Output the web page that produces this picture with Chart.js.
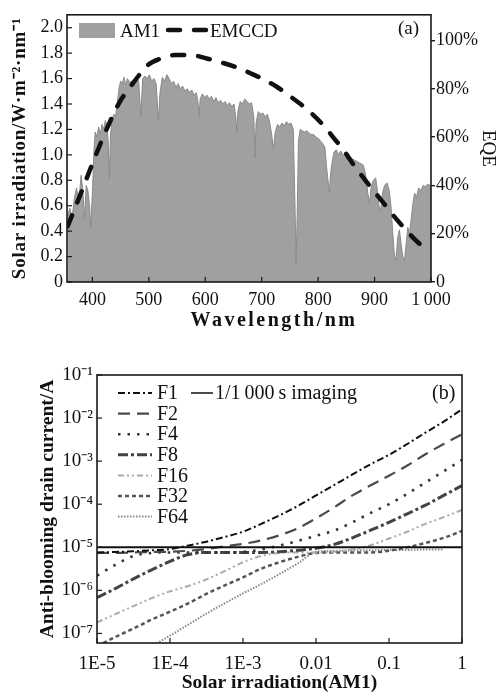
<!DOCTYPE html>
<html>
<head>
<meta charset="utf-8">
<script src="https://cdn.jsdelivr.net/npm/chart.js@4.4.1/dist/chart.umd.min.js"></script>
<style>
  html, body { margin: 0; padding: 0; background: #fff; }
  #wrap { position: relative; width: 500px; height: 693px; }
  canvas { position: absolute; left: 0; }
  #chartA { top: 0; }
  #chartB { top: 340px; }
</style>
</head>
<body>
<div id="wrap">
  <canvas id="chartA" width="500" height="340"></canvas>
  <canvas id="chartB" width="500" height="353"></canvas>
</div>
<script>
const $ = id => document.getElementById(id);
const SERIF = "'Liberation Serif', 'Times New Roman', serif";
Chart.defaults.font.family = SERIF;
Chart.defaults.color = '#111';

// ---- (a) AM1 spectrum + EMCCD EQE ----
const am1Wl = [356, 360, 364, 368, 372, 376, 380, 383, 386, 389, 392, 395, 397, 400, 403, 405, 408, 411, 414, 417,
  420, 423, 426, 428, 430, 432, 435, 438, 441, 444, 447, 450, 453, 456, 459, 462, 466, 470, 474, 478,
  482, 486, 489, 493, 497, 501, 505, 509, 513, 517, 520, 524, 528, 532, 536, 540, 544, 548, 552, 556,
  560, 564, 568, 572, 576, 580, 584, 587, 589, 591, 595, 599, 603, 607, 611, 615, 619, 623, 627, 631,
  635, 639, 643, 647, 651, 654, 656, 658, 662, 666, 670, 674, 678, 682, 686, 688, 690, 694, 698, 702,
  706, 710, 714, 718, 721, 724, 728, 732, 736, 740, 744, 748, 752, 756, 759, 761, 763, 765, 768, 772,
  776, 780, 784, 788, 792, 796, 800, 804, 808, 812, 815, 818, 820, 822, 825, 828, 832, 836, 840, 844,
  848, 852, 856, 860, 864, 868, 872, 876, 880, 884, 888, 891, 894, 898, 902, 905, 908, 911, 914, 918,
  922, 926, 929, 932, 935, 938, 941, 944, 947, 950, 953, 956, 959, 962, 965, 968, 971, 974, 978, 982,
  986, 990, 994, 998, 1000];
const am1Irr = [0.52, 0.58, 0.50, 0.66, 0.74, 0.62, 0.84, 0.72, 0.50, 0.76, 0.72, 0.60, 0.43, 0.70, 1.05, 1.18, 1.14, 1.22, 1.16, 1.24,
  1.20, 1.27, 1.22, 1.10, 0.82, 1.15, 1.28, 1.32, 1.30, 1.40, 1.52, 1.58, 1.56, 1.61, 1.55, 1.60, 1.57, 1.58, 1.54, 1.60,
  1.58, 1.30, 1.60, 1.62, 1.60, 1.63, 1.58, 1.60, 1.56, 1.27, 1.50, 1.61, 1.58, 1.63, 1.60, 1.56, 1.58, 1.53, 1.56, 1.52,
  1.54, 1.50, 1.52, 1.49, 1.51, 1.47, 1.49, 1.42, 1.30, 1.44, 1.48, 1.45, 1.47, 1.44, 1.46, 1.42, 1.45, 1.41, 1.43, 1.40,
  1.42, 1.39, 1.41, 1.38, 1.40, 1.30, 1.18, 1.35, 1.42, 1.40, 1.44, 1.42, 1.40, 1.41, 1.30, 0.98, 1.25, 1.34, 1.32, 1.33,
  1.30, 1.32, 1.26, 1.15, 1.05, 1.18, 1.24, 1.22, 1.25, 1.23, 1.26, 1.24, 1.25, 1.20, 0.60, 0.15, 0.55, 1.10, 1.20, 1.19,
  1.18, 1.19, 1.17, 1.16, 1.16, 1.14, 1.13, 1.11, 1.09, 1.06, 0.90, 0.78, 0.70, 0.85, 0.95, 1.02, 1.04, 1.00, 1.03, 1.00,
  0.99, 0.96, 0.99, 0.97, 0.96, 0.95, 0.94, 0.93, 0.92, 0.85, 0.70, 0.62, 0.75, 0.80, 0.82, 0.72, 0.60, 0.56, 0.70, 0.76,
  0.78, 0.72, 0.60, 0.40, 0.22, 0.17, 0.35, 0.41, 0.30, 0.20, 0.17, 0.30, 0.43, 0.38, 0.50, 0.62, 0.70, 0.66, 0.74, 0.72,
  0.76, 0.75, 0.77, 0.76, 0.76];
const eqeWl = [356, 380, 400, 421, 447, 474, 499, 520, 546, 575, 604, 628, 655, 680, 703, 726, 747, 770, 790, 811,
  830, 844, 860, 876, 894, 915, 930, 952, 970, 988];
const eqePct = [23, 37, 49, 61, 74, 83, 90, 92.5, 94, 94, 92.5, 91, 89, 86.5, 84, 81, 77.5, 73.5, 69.5, 64.5,
  59, 55, 49.5, 44.5, 39, 33, 28.5, 22.5, 18, 14];
const wlTicks = [400, 500, 600, 700, 800, 900, 1000];
const wlTickLabels = ['400', '500', '600', '700', '800', '900', '1\u2009000'];
const irrTicks = [0, 0.2, 0.4, 0.6, 0.8, 1.0, 1.2, 1.4, 1.6, 1.8, 2.0];
const irrTickLabels = ['0', '0.2', '0.4', '0.6', '0.8', '1.0', '1.2', '1.4', '1.6', '1.8', '2.0'];
const eqeTicks = [0, 20, 40, 60, 80, 100];
const eqeTickLabels = ['0', '20%', '40%', '60%', '80%', '100%'];

// ---- (b) anti-blooming drain current vs irradiation ----
const solar = [1e-5, 1.78e-5, 3.16e-5, 5.62e-5, 1e-4, 1.78e-4, 3.16e-4, 5.62e-4, 1e-3, 1.78e-3, 3.16e-3,
  5.62e-3, 0.01, 0.0178, 0.0316, 0.0562, 0.1, 0.178, 0.316, 0.562, 1];
const f1 = [7.6e-6, 7.8e-6, 8.1e-6, 8.5e-6, 9.1e-6, 1.1e-5, 1.35e-5, 1.74e-5, 2.3e-5, 3.5e-5, 5.5e-5,
  9.1e-5, 1.6e-4, 2.8e-4, 4.9e-4, 8.5e-4, 1.4e-3, 2.5e-3, 4.6e-3, 8.3e-3, 1.6e-2];
const f2 = [7.4e-6, 7.4e-6, 7.6e-6, 7.8e-6, 7.9e-6, 8.3e-6, 9.1e-6, 1.05e-5, 1.2e-5, 1.45e-5, 1.9e-5,
  2.75e-5, 4.7e-5, 8.5e-5, 1.6e-4, 2.75e-4, 4.6e-4, 7.9e-4, 1.45e-3, 2.5e-3, 4.2e-3];
const f4 = [2.2e-6, 3.9e-6, 6.3e-6, 7.4e-6, 7.6e-6, 7.6e-6, 7.6e-6, 7.6e-6, 7.8e-6, 8.9e-6, 1.1e-5,
  1.4e-5, 1.85e-5, 2.45e-5, 3.8e-5, 6.3e-5, 1.0e-4, 1.75e-4, 3.2e-4, 5.8e-4, 1.07e-3];
const f8 = [6.8e-7, 1.1e-6, 1.85e-6, 3.0e-6, 4.7e-6, 6.8e-6, 7.6e-6, 7.6e-6, 7.6e-6, 7.6e-6, 7.9e-6,
  8.5e-6, 9.5e-6, 1.17e-5, 1.66e-5, 2.5e-5, 3.8e-5, 6.0e-5, 9.5e-5, 1.6e-4, 2.7e-4];
const f16 = [1.8e-7, 2.8e-7, 4.3e-7, 6.6e-7, 9.5e-7, 1.26e-6, 1.8e-6, 2.8e-6, 4.5e-6, 6.3e-6, 7.4e-6,
  7.6e-6, 7.6e-6, 7.9e-6, 8.9e-6, 1.12e-5, 1.6e-5, 2.3e-5, 3.5e-5, 5.0e-5, 7.4e-5];
const f32 = [5.0e-8, 8.3e-8, 1.3e-7, 2.1e-7, 3.2e-7, 5.0e-7, 8.3e-7, 1.3e-6, 2.0e-6, 3.2e-6, 4.5e-6,
  6.0e-6, 7.4e-6, 7.6e-6, 7.6e-6, 7.6e-6, 8.3e-6, 1.0e-5, 1.26e-5, 1.66e-5, 2.4e-5];
const f64 = [null, null, 2.8e-8, 5.0e-8, 8.9e-8, 1.6e-7, 2.9e-7, 5.0e-7, 8.5e-7, 1.4e-6, 2.4e-6,
  4.2e-6, 7.9e-6, 8.3e-6, 8.5e-6, 8.5e-6, 8.7e-6, 8.7e-6, 8.9e-6, 8.9e-6, null];
const imagingX = [1e-5, 1];
const imagingY = [1e-5, 1e-5];
const solarTicks = [1e-5, 1e-4, 1e-3, 0.01, 0.1, 1];
const solarTickLabels = ['1E-5', '1E-4', '1E-3', '0.01', '0.1', '1'];
const currentTicks = [1e-7, 1e-6, 1e-5, 1e-4, 1e-3, 1e-2, 1e-1];
const currentTickLabels = ['10\u207B\u2077', '10\u207B\u2076', '10\u207B\u2075', '10\u207B\u2074', '10\u207B\u00B3', '10\u207B\u00B2', '10\u207B\u00B9'];

const pts = (xs, ys) => xs.map((x, i) => ({ x, y: ys[i] }));
const font = (size, weight) => ({ family: SERIF, size, weight: weight || 'normal' });

// frame around the plot + short ticks pointing inwards
const frameTicks = {
  id: 'frameTicks',
  afterDatasetsDraw(chart, args, opts) {
    const { ctx, chartArea: a } = chart;
    ctx.save();
    ctx.strokeStyle = '#1a1a1a';
    ctx.lineWidth = 1.6;
    ctx.strokeRect(a.left, a.top, a.right - a.left, a.bottom - a.top);
    ctx.lineWidth = 1.2;
    (opts.axes || []).forEach(id => {
      const s = chart.scales[id];
      s.ticks.forEach(t => {
        const p = s.getPixelForValue(t.value);
        ctx.beginPath();
        if (s.isHorizontal()) { ctx.moveTo(p, a.bottom); ctx.lineTo(p, a.bottom - 5); }
        else { ctx.moveTo(a.left, p); ctx.lineTo(a.left + 5, p); }
        ctx.stroke();
      });
    });
    ctx.restore();
  }
};

// the wavelength title of the original is letter-spaced and sits right of centre
const spacedTitles = {
  id: 'spacedTitles',
  beforeDraw(chart, args, opts) {
    Object.entries(opts.axes || {}).forEach(([id, o]) => {
      const s = chart.scales[id];
      if (!s || s._spaced) return;
      const orig = s.drawTitle.bind(s);
      s.drawTitle = function () {
        const ctx = chart.ctx;
        ctx.save();
        ctx.letterSpacing = o.spacing || '0px';
        ctx.translate(o.dx || 0, 0);
        orig();
        ctx.restore();
        ctx.letterSpacing = '0px';
      };
      s._spaced = true;
    });
  }
};

const legendA = {
  id: 'legendA',
  afterDraw(chart) {
    const ctx = chart.ctx;
    ctx.save();
    ctx.fillStyle = '#a0a0a0';
    ctx.fillRect(79, 23, 36, 15);
    ctx.fillStyle = '#111';
    ctx.font = `19px ${SERIF}`;
    ctx.textBaseline = 'alphabetic';
    ctx.fillText('AM1', 120, 37);
    ctx.fillText('EMCCD', 210, 37);
    ctx.fillText('(a)', 398, 34);
    ctx.strokeStyle = '#111';
    ctx.lineWidth = 4.5;
    ctx.lineCap = 'round';
    ctx.setLineDash([12, 14]);
    ctx.beginPath();
    ctx.moveTo(168, 30);
    ctx.lineTo(206, 30);
    ctx.stroke();
    ctx.restore();
  }
};

new Chart($('chartA'), {
  type: 'line',
  data: {
    datasets: [
      {
        label: 'EMCCD', data: pts(eqeWl, eqePct), yAxisID: 'yR',
        borderColor: '#111', borderWidth: 4.5, borderDash: [12, 14], borderCapStyle: 'round',
        pointRadius: 0, fill: false, cubicInterpolationMode: 'monotone', order: 0
      },
      {
        label: 'AM1', data: pts(am1Wl, am1Irr), yAxisID: 'y',
        borderColor: '#8a8a8a', borderWidth: 1, backgroundColor: '#a0a0a0',
        fill: 'origin', pointRadius: 0, tension: 0, order: 1
      }
    ]
  },
  options: {
    responsive: false, animation: false, devicePixelRatio: 1,
    layout: { padding: { top: 13, right: 0, bottom: 0, left: 0 } },
    plugins: {
      legend: { display: false }, tooltip: { enabled: false },
      frameTicks: { axes: ['x', 'y'] },
      spacedTitles: { axes: { x: { spacing: '2.5px', dx: 25 }, y: { spacing: '0.8px' } } }
    },
    scales: {
      x: {
        type: 'linear', min: 355, max: 1000,
        afterBuildTicks: s => { s.ticks = wlTicks.map(value => ({ value })); },
        afterFit: s => { s.height = 58; },
        grid: { display: false, drawTicks: false }, border: { display: false },
        ticks: { font: font(18), padding: 7, maxRotation: 0, autoSkip: false, callback: (v, i) => wlTickLabels[i] },
        title: { display: true, text: 'Wavelength/nm', font: font(20, 'bold'), padding: { top: 0, bottom: 7 } }
      },
      y: {
        type: 'linear', position: 'left', min: 0, max: 2.1016,
        afterBuildTicks: s => { s.ticks = irrTicks.map(value => ({ value })); },
        afterFit: s => { s.width = 67; },
        grid: { display: false, drawTicks: false }, border: { display: false },
        ticks: { font: font(18), padding: 4, autoSkip: false, callback: (v, i) => irrTickLabels[i] },
        title: { display: true, text: 'Solar irradiation/W\u00B7m\u207B\u00B2\u00B7nm\u207B\u00B9', font: font(19, 'bold'), padding: { top: 9, bottom: 0 } }
      },
      yR: {
        type: 'linear', position: 'right', min: 0, max: 110.7,
        afterBuildTicks: s => { s.ticks = eqeTicks.map(value => ({ value })); },
        afterFit: s => { s.width = 69; },
        grid: { display: true, drawOnChartArea: false, drawTicks: true, tickLength: 4, color: '#1a1a1a', lineWidth: 1.4 },
        border: { display: false },
        ticks: { font: font(18), padding: 1, autoSkip: false, callback: (v, i) => eqeTickLabels[i] },
        title: { display: true, text: 'EQE', font: font(19), padding: { top: 1, bottom: 0 } }
      }
    }
  },
  plugins: [frameTicks, spacedTitles, legendA]
});

// ---- (b) ----
const fSeries = [
  { label: 'F1', data: f1, color: '#111', width: 2, dash: [7, 3, 2, 3] },
  { label: 'F2', data: f2, color: '#4a4a4a', width: 2.2, dash: [12, 7] },
  { label: 'F4', data: f4, color: '#333', width: 2.6, dash: [2.5, 7] },
  { label: 'F8', data: f8, color: '#444', width: 3, dash: [10, 3, 3, 3] },
  { label: 'F16', data: f16, color: '#aaa', width: 2, dash: [6, 3, 2, 3, 2, 3] },
  { label: 'F32', data: f32, color: '#555', width: 2.5, dash: [4, 3] },
  { label: 'F64', data: f64, color: '#888', width: 2, dash: [1.5, 1.5] }
];

const legendB = {
  id: 'legendB',
  afterDraw(chart) {
    const ctx = chart.ctx;
    ctx.save();
    ctx.font = `20px ${SERIF}`;
    ctx.textBaseline = 'middle';
    fSeries.forEach((s, i) => {
      const y = 53 + i * 20.6;
      ctx.strokeStyle = s.color;
      ctx.lineWidth = s.width;
      ctx.setLineDash(s.dash);
      ctx.beginPath();
      ctx.moveTo(118, y);
      ctx.lineTo(152, y);
      ctx.stroke();
      ctx.fillStyle = '#111';
      ctx.fillText(s.label, 157, y + 1);
    });
    ctx.setLineDash([]);
    ctx.strokeStyle = '#111';
    ctx.lineWidth = 1.5;
    ctx.beginPath();
    ctx.moveTo(191, 53);
    ctx.lineTo(213, 53);
    ctx.stroke();
    ctx.fillText('1/1\u2009000\u2009s imaging', 215, 54);
    ctx.fillText('(b)', 432, 54);
    ctx.restore();
  }
};

new Chart($('chartB'), {
  type: 'line',
  data: {
    datasets: [
      {
        label: '1/1000 s imaging', data: pts(imagingX, imagingY),
        borderColor: '#111', borderWidth: 2, pointRadius: 0, fill: false
      },
      ...fSeries.map(s => ({
        label: s.label, data: pts(solar, s.data),
        borderColor: s.color, borderWidth: s.width, borderDash: s.dash,
        pointRadius: 0, fill: false, spanGaps: false, cubicInterpolationMode: 'monotone'
      }))
    ]
  },
  options: {
    responsive: false, animation: false, devicePixelRatio: 1,
    layout: { padding: { top: 35, right: 38, bottom: 0, left: 0 } },
    plugins: { legend: { display: false }, tooltip: { enabled: false }, frameTicks: { axes: ['x', 'y'] } },
    scales: {
      x: {
        type: 'logarithmic', min: 1e-5, max: 1,
        afterBuildTicks: s => { s.ticks = solarTicks.map(value => ({ value })); },
        afterFit: s => { s.height = 50; },
        grid: { display: false, drawTicks: false }, border: { display: false },
        ticks: { font: font(19), padding: 10, maxRotation: 0, autoSkip: false, callback: (v, i) => solarTickLabels[i] },
        title: { display: true, text: 'Solar irradiation(AM1)', font: { family: SERIF, size: 19.5, weight: 'bold', lineHeight: 1 }, padding: { top: 0, bottom: 0 } }
      },
      y: {
        type: 'logarithmic', min: 6e-8, max: 0.1,
        afterBuildTicks: s => { s.ticks = currentTicks.map(value => ({ value })); },
        afterFit: s => { s.width = 97; },
        grid: { display: false, drawTicks: false }, border: { display: false },
        ticks: { font: font(19), padding: 4, autoSkip: false, callback: (v, i) => currentTickLabels[i] },
        title: { display: true, text: 'Anti-blooming drain current/A', font: font(19.5, 'bold'), padding: { top: 36, bottom: 0 } }
      }
    }
  },
  plugins: [frameTicks, legendB]
});
</script>
</body>
</html>
